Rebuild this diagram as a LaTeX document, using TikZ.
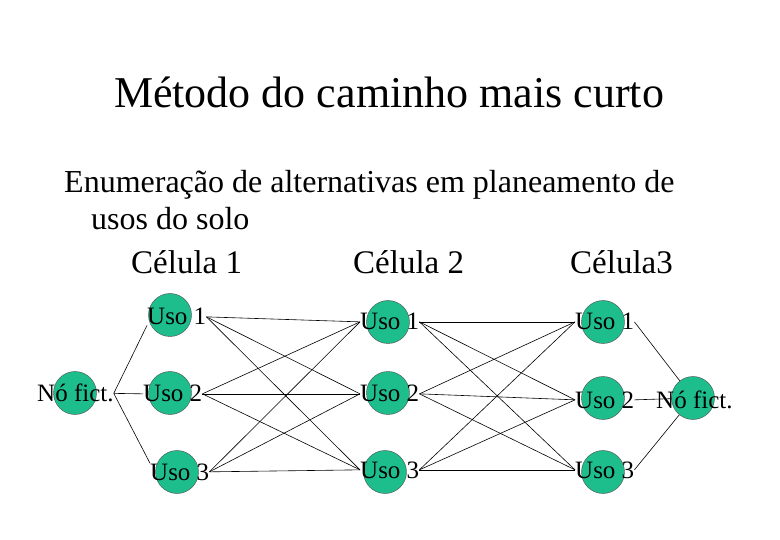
\documentclass[tikz,border=0pt]{standalone}
\usepackage{fontspec}
\setmainfont{Liberation Serif}
\definecolor{nodegreen}{RGB}{30,190,140}

\begin{document}
\begin{tikzpicture}[x=1pt,y=-1pt,
  usocirc/.style={circle,draw=black!70,fill=nodegreen,minimum size=43pt,inner sep=0pt},
  usotext/.style={inner sep=0pt,anchor=base west,font=\fontsize{25}{30}\selectfont},
  bigtext/.style={inner sep=0pt,anchor=base west,font=\fontsize{32}{38}\selectfont},
  link/.style={line width=0.6pt}]
\useasboundingbox (0,0) rectangle (780,540);

% Title and heading
\node[inner sep=0pt,anchor=base,font=\fontsize{44}{52}\selectfont] (title) at (389,108) {Método do caminho mais curto};
\node[bigtext] (enum1) at (64,193) {Enumeração de alternativas em planeamento de};
\node[bigtext] (enum2) at (91,230) {usos do solo};
\node[bigtext,font=\fontsize{33}{38}\selectfont] (cel1) at (131,274) {Célula 1};
\node[bigtext,font=\fontsize{33}{38}\selectfont] (cel2) at (353,274) {Célula 2};
\node[bigtext,font=\fontsize{33}{38}\selectfont] (cel3) at (570,274) {Célula3};

% Circles
\foreach \c/\u/\x/\y in {1/1/170/315, 1/2/170/393, 1/3/177/472,
                         2/1/388/322, 2/2/388/393, 2/3/385/472,
                         3/1/603/322, 3/2/603/398, 3/3/603/472} {
    \node[usocirc] (dot\c\u) at (\x,\y) {};
}
\node[usocirc] (dotL) at (75,393) {};
\node[usocirc] (dotR) at (693,398) {};

% Labels
\foreach \c/\u/\x/\y in {1/1/147/325, 1/2/143/402, 1/3/150/480,
                         2/1/360/330, 2/2/360/402, 2/3/360/478,
                         3/1/575/330, 3/2/575/408, 3/3/575/478} {
    \node[usotext] (uso\c\u) at (\x,\y) {Uso \u};
}
\node[usotext] (noL) at (37,402) {Nó fict.};
\node[usotext] (noR) at (656,408) {Nó fict.};

% Connectors
\draw[link] (noL.east) -- (uso11.south west);
\draw[link] (noL.east) -- (uso12.west);
\draw[link] (noL.east) -- (uso13.north west);
\foreach \i in {1,2,3} {
    \foreach \j in {1,2,3} {
        \draw[link] (uso1\i.east) -- (uso2\j.west);
        \draw[link] (uso2\i.east) -- (uso3\j.west);
    }
    \draw[link] (uso3\i.east) -- (dotR);
}

\end{tikzpicture}
\end{document}
